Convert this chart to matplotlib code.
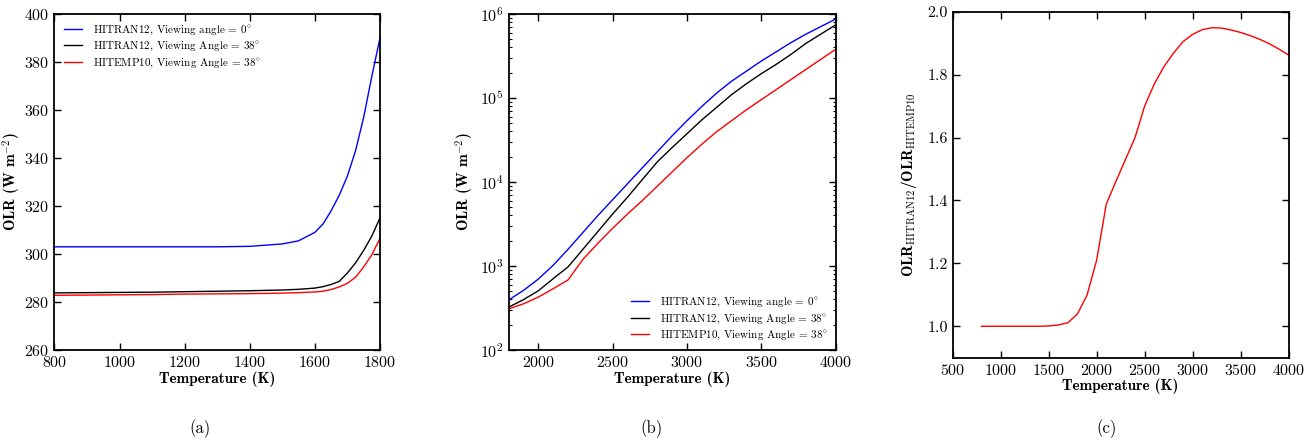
import matplotlib
matplotlib.use('Agg')
import matplotlib.pyplot as plt
from matplotlib.ticker import LogLocator, MultipleLocator

plt.rcParams['font.family'] = 'serif'
plt.rcParams['font.serif'] = ['cmr10']
plt.rcParams['mathtext.fontset'] = 'cm'
plt.rcParams['axes.formatter.use_mathtext'] = True
plt.rcParams['axes.unicode_minus'] = False

# (a) OLR vs temperature, 800-1800 K
temp_a = [800, 900, 1000, 1100, 1200, 1300, 1400, 1500, 1550, 1600,
          1625, 1650, 1675, 1700, 1725, 1750, 1775, 1800]
olr_a_h12_0 = [303.0, 303.0, 303.0, 303.0, 303.0, 303.0, 303.2, 304.2, 305.5, 309.0,
               312.5, 318.0, 324.5, 332.5, 343.0, 357.0, 374.0, 390.0]
olr_a_h12_38 = [283.8, 283.9, 284.0, 284.1, 284.3, 284.5, 284.7, 285.0, 285.3, 285.8,
                286.4, 287.3, 288.6, 292.1, 296.3, 301.5, 307.5, 315.0]
olr_a_h10_38 = [282.8, 282.9, 283.0, 283.1, 283.3, 283.4, 283.5, 283.7, 283.9, 284.2,
                284.5, 285.2, 286.3, 287.8, 290.3, 294.6, 299.7, 306.5]

# (b) OLR vs temperature, 1800-4000 K (log axis)
temp_b = [1800, 1900, 2000, 2100, 2200, 2300, 2400, 2500, 2600, 2700, 2800, 2900,
          3000, 3100, 3200, 3300, 3400, 3500, 3600, 3700, 3800, 3900, 4000]
olr_b_h12_0 = [394, 513, 700, 1023, 1585, 2512, 3981, 6166, 9550, 14790, 22900, 35480,
               53700, 79430, 114800, 158500, 208900, 275400, 354800, 457100, 575400,
               707900, 871000]
olr_b_h12_38 = [324, 398, 508, 708, 977, 1585, 2570, 4169, 6607, 10720, 17380, 25700,
                37580, 54950, 77620, 109600, 147900, 195000, 251200, 331100, 446700,
                575400, 741300]
olr_b_h10_38 = [309, 355, 427, 537, 684, 1202, 1862, 2818, 4169, 6026, 8913, 13180,
                19500, 28180, 39810, 53700, 72440, 95500, 125900, 166000, 218800,
                288400, 380200]

# (c) ratio HITRAN12 / HITEMP10
temp_c = [800, 900, 1000, 1100, 1200, 1300, 1400, 1500, 1600, 1700, 1800, 1900,
          2000, 2100, 2200, 2300, 2400, 2500, 2600, 2700, 2800, 2900, 3000, 3100,
          3200, 3300, 3400, 3500, 3600, 3700, 3800, 3900, 4000]
ratio_c = [1.0, 1.0, 1.0, 1.0, 1.0, 1.0, 1.0, 1.001, 1.004, 1.011, 1.039, 1.099,
           1.21, 1.388, 1.46, 1.53, 1.60, 1.70, 1.77, 1.825, 1.868, 1.905, 1.928, 1.943,
           1.949, 1.948, 1.942, 1.934, 1.924, 1.912, 1.898, 1.881, 1.862]

labels = [r'HITRAN12, Viewing angle = 0$^{\circ}$',
          r'HITRAN12, Viewing Angle = 38$^{\circ}$',
          r'HITEMP10, Viewing Angle = 38$^{\circ}$']
colors = ['blue', 'black', 'red']

fig = plt.figure(figsize=(13.12, 4.42), dpi=100)
ax1 = fig.add_axes([0.0415, 0.2081, 0.2481, 0.7602])
ax2 = fig.add_axes([0.3877, 0.2081, 0.2492, 0.7602])
ax3 = fig.add_axes([0.7261, 0.1907, 0.2561, 0.7828])

def style(ax):
    ax.tick_params(which='both', direction='in', top=True, right=True, labelsize=11.5)
    ax.tick_params(which='major', length=5, width=1)
    ax.tick_params(which='minor', length=2.5, width=0.8)
    for s in ax.spines.values():
        s.set_linewidth(1.3)
    ax.set_xlabel('Temperature (K)', fontname='cmb10', fontsize=11, labelpad=1)

for ys, c, lab in zip([olr_a_h12_0, olr_a_h12_38, olr_a_h10_38], colors, labels):
    ax1.plot(temp_a, ys, color=c, lw=1, label=lab)
ax1.set_xlim(800, 1800)
ax1.set_ylim(260, 400)
ax1.xaxis.set_major_locator(MultipleLocator(200))
ax1.yaxis.set_major_locator(MultipleLocator(20))
style(ax1)
ax1.set_ylabel(r'OLR (W m$^{-2}$)', fontname='cmb10', fontsize=11, labelpad=1)
ax1.legend(loc='upper left', frameon=False, fontsize=8, handlelength=1.6,
           handletextpad=1.0, borderaxespad=0.45, labelspacing=0.3)

for ys, c, lab in zip([olr_b_h12_0, olr_b_h12_38, olr_b_h10_38], colors, labels):
    ax2.plot(temp_b, ys, color=c, lw=1, label=lab)
ax2.set_yscale('log')
ax2.set_xlim(1800, 4000)
ax2.set_ylim(1e2, 1e6)
ax2.xaxis.set_major_locator(MultipleLocator(500))
ax2.yaxis.set_minor_locator(LogLocator(base=10, subs=range(2, 10)))
style(ax2)
ax2.set_ylabel(r'OLR (W m$^{-2}$)', fontname='cmb10', fontsize=11, labelpad=3)
ax2.legend(loc='lower right', frameon=False, fontsize=8, handlelength=1.6,
           handletextpad=1.0, borderaxespad=0.3, labelspacing=0.3)

ax3.plot(temp_c, ratio_c, color='red', lw=1)
ax3.set_xlim(500, 4000)
ax3.set_ylim(0.9, 2.0)
ax3.xaxis.set_major_locator(MultipleLocator(500))
ax3.set_yticks([1.0, 1.2, 1.4, 1.6, 1.8, 2.0])
ax3.set_yticklabels(['1.0', '1.2', '1.4', '1.6', '1.8', '2.0'])
style(ax3)
ax3.set_ylabel(r'OLR$_{\mathrm{HITRAN12}}$/OLR$_{\mathrm{HITEMP10}}$',
               fontname='cmb10', fontsize=11, labelpad=6)

for x, t in [(200, '(a)'), (652, '(b)'), (1107, '(c)')]:
    fig.text(x / 1312, 1 - 429 / 442, t, ha='center', va='center', fontsize=12)

fig.savefig('out.png', dpi=100)
